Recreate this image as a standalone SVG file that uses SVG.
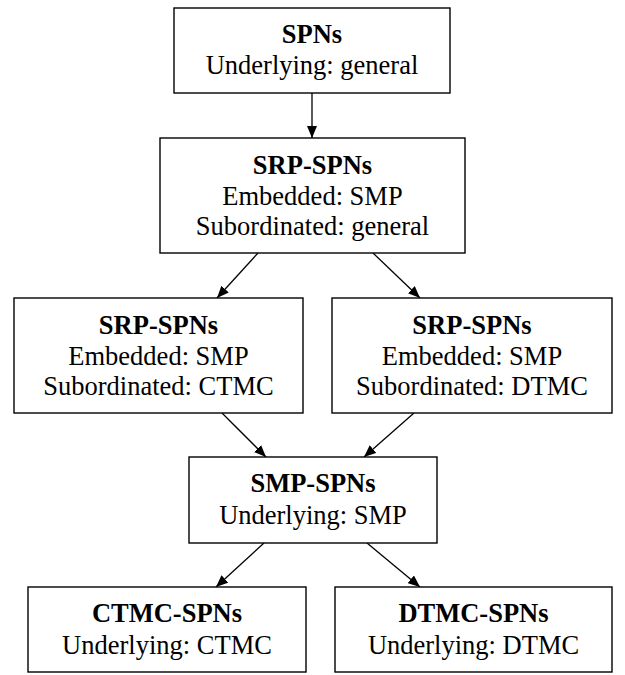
<svg xmlns="http://www.w3.org/2000/svg" width="625" height="675" viewBox="0 0 625 675">
<defs>
<marker id="ah" viewBox="0 0 12 10" refX="12" refY="5" markerWidth="12" markerHeight="10" markerUnits="userSpaceOnUse" orient="auto">
<path d="M0,0 L12,5 L0,10 z" fill="#000"/>
</marker>
<style>
.box{fill:#fff;stroke:#000;stroke-width:1.4}
text{font-family:"Liberation Serif","Times New Roman",serif;font-size:26.5px;fill:#000;text-anchor:middle}
.t{font-weight:bold}
.e{stroke:#000;stroke-width:1.3;fill:none;marker-end:url(#ah)}
</style>
</defs>
<rect width="625" height="675" fill="#fff"/>
<g id="edges">
<line class="e" x1="312" y1="93" x2="312" y2="138"/>
<line class="e" x1="258" y1="253" x2="217" y2="298"/>
<line class="e" x1="373" y1="253" x2="420" y2="298"/>
<line class="e" x1="222" y1="413" x2="266" y2="457"/>
<line class="e" x1="414" y1="413" x2="364" y2="457"/>
<line class="e" x1="264" y1="543" x2="216" y2="587"/>
<line class="e" x1="367" y1="543" x2="420" y2="587"/>
</g>
<g id="spns">
<rect class="box" x="174" y="8" width="276" height="85"/>
<text class="t" x="312" y="43">SPNs</text>
<text x="312" y="74">Underlying: general</text>
</g>
<g id="srp">
<rect class="box" x="160" y="138" width="305" height="115"/>
<text class="t" x="312.5" y="174">SRP-SPNs</text>
<text x="312.5" y="205">Embedded: SMP</text>
<text x="312.5" y="235">Subordinated: general</text>
</g>
<g id="srp-ctmc">
<rect class="box" x="14" y="298" width="289" height="115"/>
<text class="t" x="158.5" y="334">SRP-SPNs</text>
<text x="158.5" y="365">Embedded: SMP</text>
<text x="158.5" y="395">Subordinated: CTMC</text>
</g>
<g id="srp-dtmc">
<rect class="box" x="332" y="298" width="280" height="115"/>
<text class="t" x="472" y="334">SRP-SPNs</text>
<text x="472" y="365">Embedded: SMP</text>
<text x="472" y="395">Subordinated: DTMC</text>
</g>
<g id="smp">
<rect class="box" x="189" y="457" width="248" height="86"/>
<text class="t" x="313" y="492">SMP-SPNs</text>
<text x="313" y="524">Underlying: SMP</text>
</g>
<g id="ctmc">
<rect class="box" x="28" y="587" width="278" height="85"/>
<text class="t" x="167" y="622">CTMC-SPNs</text>
<text x="167" y="654">Underlying: CTMC</text>
</g>
<g id="dtmc">
<rect class="box" x="335" y="587" width="277" height="85"/>
<text class="t" x="473.5" y="622">DTMC-SPNs</text>
<text x="473.5" y="654">Underlying: DTMC</text>
</g>
</svg>
